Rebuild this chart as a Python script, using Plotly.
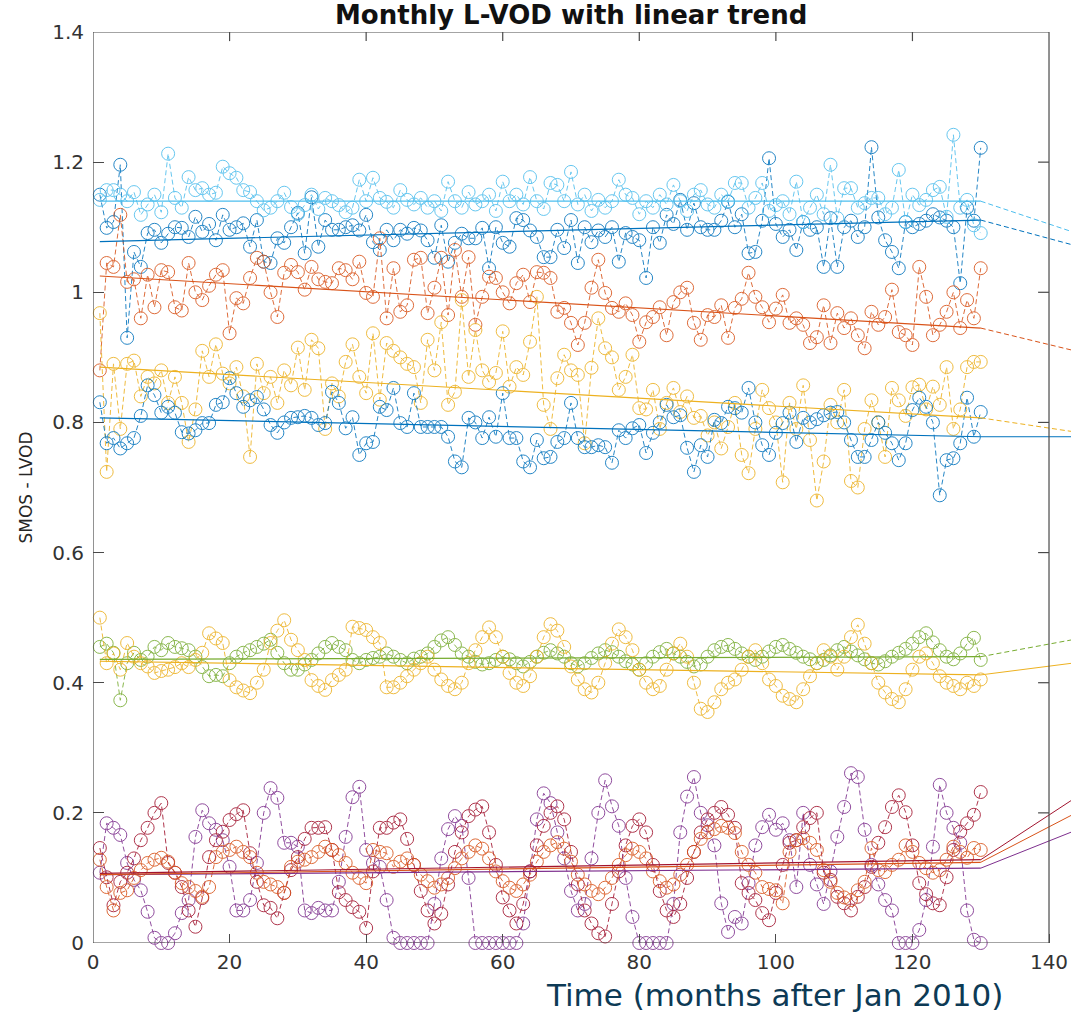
import plotly.graph_objects as go

months = list(range(1, 131))

# ---- series values ----
lightblue_top = [1.142, 1.157, 1.157, 1.150, 1.140, 1.154, 1.119, 1.135, 1.150, 1.123,
                 1.213, 1.145, 1.130, 1.177, 1.157, 1.160, 1.150, 1.153, 1.193, 1.183,
                 1.176, 1.157, 1.154, 1.140, 1.126, 1.130, 1.140, 1.153, 1.131, 1.120,
                 1.134, 1.150, 1.128, 1.145, 1.140, 1.134, 1.123, 1.130, 1.173, 1.140,
                 1.176, 1.145, 1.139, 1.130, 1.157, 1.142, 1.135, 1.145, 1.130, 1.140,
                 1.125, 1.170, 1.140, 1.130, 1.154, 1.135, 1.140, 1.150, 1.125, 1.170,
                 1.140, 1.150, 1.135, 1.177, 1.140, 1.128, 1.168, 1.165, 1.140, 1.185,
                 1.135, 1.150, 1.125, 1.142, 1.130, 1.140, 1.173, 1.150, 1.145, 1.120,
                 1.140, 1.130, 1.150, 1.135, 1.165, 1.140, 1.125, 1.150, 1.157, 1.135,
                 1.130, 1.150, 1.140, 1.168, 1.168, 1.130, 1.145, 1.168, 1.125, 1.134,
                 1.140, 1.120, 1.170, 1.108, 1.130, 1.150, 1.120, 1.196, 1.114, 1.160,
                 1.160, 1.130, 1.137, 1.145, 1.145, 1.120, 1.130, 1.188, 1.108, 1.150,
                 1.134, 1.142, 1.157, 1.162, 1.116, 1.242, 1.130, 1.142, 1.103, 1.091]

blue_top = [1.150, 1.099, 1.108, 1.196, 0.930, 1.062, 1.039, 1.091, 1.096, 1.076,
            1.090, 1.100, 1.099, 1.085, 1.116, 1.093, 1.105, 1.080, 1.119, 1.096,
            1.100, 1.106, 1.070, 1.111, 1.047, 1.045, 1.083, 1.076, 1.100, 1.122,
            1.060, 1.146, 1.070, 1.111, 1.096, 1.096, 1.100, 1.103, 1.095, 1.119,
            1.077, 1.065, 1.096, 1.080, 1.096, 1.090, 1.099, 1.095, 1.080, 1.053,
            1.103, 1.047, 1.076, 1.090, 1.083, 1.083, 1.099, 1.037, 1.100, 1.076,
            1.070, 1.114, 1.111, 1.095, 1.085, 1.054, 1.054, 1.096, 1.068, 1.111,
            1.045, 1.100, 1.077, 1.095, 1.085, 1.100, 1.047, 1.091, 1.085, 1.080,
            1.022, 1.100, 1.076, 1.119, 1.105, 1.142, 1.096, 1.137, 1.100, 1.096,
            1.096, 1.110, 1.139, 1.100, 1.120, 1.060, 1.062, 1.110, 1.206, 1.105,
            1.085, 1.096, 1.065, 1.108, 1.096, 1.100, 1.039, 1.114, 1.039, 1.100,
            1.110, 1.085, 1.100, 1.223, 1.115, 1.080, 1.062, 1.037, 1.108, 1.100,
            1.105, 1.110, 1.120, 1.115, 1.110, 1.100, 1.014, 1.130, 1.110, 1.222]

red_top = [0.880, 1.045, 1.039, 1.119, 1.016, 1.020, 0.960, 1.027, 0.977, 1.034,
           1.031, 0.977, 0.972, 1.045, 1.000, 0.988, 1.010, 1.027, 1.034, 0.937,
           0.991, 0.983, 1.022, 1.053, 1.047, 1.000, 0.962, 1.030, 1.042, 1.031,
           1.004, 1.039, 1.020, 1.016, 1.014, 1.037, 1.034, 1.020, 1.047, 0.999,
           0.993, 1.083, 0.960, 1.037, 0.970, 0.980, 1.050, 1.053, 0.968, 1.007,
           1.053, 0.965, 1.065, 0.993, 1.054, 0.950, 0.993, 1.024, 1.022, 1.000,
           0.983, 1.014, 1.027, 0.985, 1.031, 1.030, 1.022, 0.970, 0.976, 0.953,
           0.919, 0.953, 1.007, 1.050, 0.999, 0.976, 0.970, 0.983, 0.965, 0.924,
           0.954, 0.962, 0.977, 0.934, 0.985, 1.000, 1.007, 0.953, 0.927, 0.965,
           0.962, 0.980, 0.930, 0.976, 0.990, 1.030, 0.993, 0.977, 0.954, 0.975,
           0.996, 0.953, 0.960, 0.950, 0.922, 0.931, 0.980, 0.922, 0.968, 0.945,
           0.960, 0.934, 0.914, 0.970, 0.950, 0.962, 1.004, 0.939, 0.934, 0.919,
           1.039, 0.993, 0.934, 0.950, 0.970, 1.000, 0.945, 0.988, 0.960, 1.037]

yellow_mid = [0.968, 0.724, 0.890, 0.790, 0.890, 0.895, 0.840, 0.870, 0.860, 0.880,
              0.830, 0.870, 0.830, 0.770, 0.820, 0.910, 0.870, 0.920, 0.875, 0.860,
              0.885, 0.840, 0.747, 0.890, 0.845, 0.870, 0.830, 0.880, 0.857, 0.915,
              0.850, 0.927, 0.914, 0.790, 0.860, 0.840, 0.893, 0.920, 0.870, 0.845,
              0.937, 0.835, 0.922, 0.910, 0.900, 0.890, 0.885, 0.830, 0.927, 0.880,
              0.954, 0.827, 0.847, 0.988, 0.870, 0.942, 0.880, 0.862, 0.876, 0.940,
              0.855, 0.885, 0.873, 0.924, 0.993, 0.827, 0.790, 0.868, 0.904, 0.880,
              0.873, 0.768, 0.884, 0.960, 0.914, 0.900, 0.850, 0.870, 0.904, 0.822,
              0.820, 0.850, 0.790, 0.830, 0.853, 0.816, 0.840, 0.807, 0.810, 0.780,
              0.800, 0.760, 0.793, 0.830, 0.750, 0.722, 0.790, 0.850, 0.822, 0.800,
              0.708, 0.830, 0.790, 0.857, 0.773, 0.680, 0.740, 0.827, 0.800, 0.850,
              0.710, 0.700, 0.790, 0.834, 0.800, 0.747, 0.853, 0.834, 0.810, 0.854,
              0.858, 0.820, 0.855, 0.827, 0.885, 0.790, 0.820, 0.885, 0.893, 0.893]

blue_mid = [0.831, 0.768, 0.776, 0.760, 0.768, 0.776, 0.810, 0.857, 0.842, 0.815,
            0.824, 0.815, 0.785, 0.783, 0.788, 0.799, 0.799, 0.827, 0.831, 0.868,
            0.845, 0.824, 0.834, 0.839, 0.820, 0.796, 0.784, 0.800, 0.807, 0.808,
            0.810, 0.807, 0.796, 0.799, 0.847, 0.830, 0.791, 0.808, 0.750, 0.768,
            0.770, 0.824, 0.819, 0.853, 0.799, 0.793, 0.845, 0.793, 0.793, 0.793,
            0.793, 0.778, 0.740, 0.731, 0.807, 0.800, 0.776, 0.808, 0.778, 0.845,
            0.776, 0.776, 0.740, 0.731, 0.773, 0.745, 0.747, 0.770, 0.776, 0.830,
            0.776, 0.762, 0.762, 0.765, 0.762, 0.738, 0.788, 0.776, 0.791, 0.796,
            0.753, 0.784, 0.800, 0.827, 0.808, 0.811, 0.761, 0.724, 0.765, 0.747,
            0.804, 0.799, 0.824, 0.822, 0.815, 0.853, 0.800, 0.765, 0.750, 0.784,
            0.799, 0.815, 0.770, 0.807, 0.800, 0.805, 0.811, 0.815, 0.816, 0.800,
            0.773, 0.747, 0.747, 0.773, 0.800, 0.784, 0.768, 0.742, 0.768, 0.819,
            0.838, 0.824, 0.800, 0.688, 0.742, 0.745, 0.768, 0.838, 0.778, 0.816]

green_low = [0.455, 0.460, 0.446, 0.373, 0.430, 0.446, 0.435, 0.440, 0.455, 0.450,
             0.461, 0.455, 0.453, 0.450, 0.440, 0.424, 0.410, 0.412, 0.410, 0.430,
             0.440, 0.446, 0.450, 0.455, 0.460, 0.466, 0.446, 0.430, 0.420, 0.420,
             0.428, 0.435, 0.445, 0.455, 0.461, 0.455, 0.450, 0.435, 0.430, 0.435,
             0.438, 0.440, 0.445, 0.440, 0.435, 0.430, 0.437, 0.440, 0.445, 0.455,
             0.465, 0.470, 0.458, 0.445, 0.440, 0.432, 0.428, 0.430, 0.435, 0.440,
             0.436, 0.430, 0.425, 0.432, 0.440, 0.446, 0.450, 0.445, 0.440, 0.430,
             0.425, 0.430, 0.438, 0.445, 0.450, 0.447, 0.440, 0.433, 0.428, 0.420,
             0.430, 0.440, 0.447, 0.452, 0.445, 0.440, 0.432, 0.425, 0.428, 0.440,
             0.450, 0.455, 0.458, 0.452, 0.445, 0.440, 0.435, 0.440, 0.448, 0.455,
             0.458, 0.452, 0.446, 0.440, 0.436, 0.430, 0.435, 0.442, 0.450, 0.455,
             0.448, 0.442, 0.436, 0.430, 0.428, 0.433, 0.440, 0.446, 0.452, 0.460,
             0.470, 0.476, 0.462, 0.450, 0.440, 0.436, 0.445, 0.460, 0.469, 0.435]

yellow_low = [0.500, 0.430, 0.445, 0.420, 0.461, 0.440, 0.430, 0.425, 0.415, 0.418,
              0.420, 0.424, 0.430, 0.424, 0.435, 0.446, 0.476, 0.468, 0.461, 0.404,
              0.393, 0.388, 0.384, 0.400, 0.420, 0.461, 0.480, 0.496, 0.466, 0.450,
              0.435, 0.404, 0.395, 0.389, 0.404, 0.412, 0.420, 0.486, 0.484, 0.481,
              0.470, 0.461, 0.393, 0.393, 0.400, 0.410, 0.420, 0.430, 0.440, 0.420,
              0.405, 0.395, 0.390, 0.400, 0.430, 0.450, 0.470, 0.485, 0.470, 0.440,
              0.415, 0.400, 0.395, 0.410, 0.440, 0.470, 0.490, 0.480, 0.455, 0.425,
              0.405, 0.390, 0.385, 0.400, 0.430, 0.460, 0.482, 0.470, 0.450, 0.420,
              0.400, 0.390, 0.395, 0.420, 0.445, 0.460, 0.440, 0.400, 0.360, 0.355,
              0.370, 0.390, 0.400, 0.405, 0.420, 0.440, 0.450, 0.430, 0.405, 0.395,
              0.380, 0.375, 0.370, 0.390, 0.410, 0.430, 0.450, 0.440, 0.420, 0.440,
              0.470, 0.489, 0.460, 0.430, 0.400, 0.385, 0.375, 0.370, 0.390, 0.420,
              0.440, 0.445, 0.430, 0.410, 0.400, 0.395, 0.390, 0.400, 0.395, 0.405]

purple_bot = [0.108, 0.184, 0.177, 0.166, 0.123, 0.097, 0.081, 0.048, 0.008, 0.000,
              0.000, 0.015, 0.046, 0.066, 0.163, 0.204, 0.184, 0.174, 0.158, 0.117,
              0.050, 0.050, 0.066, 0.123, 0.200, 0.238, 0.223, 0.154, 0.154, 0.148,
              0.050, 0.046, 0.054, 0.050, 0.050, 0.094, 0.163, 0.224, 0.240, 0.143,
              0.123, 0.117, 0.066, 0.008, 0.000, 0.000, 0.000, 0.000, 0.000, 0.060,
              0.130, 0.175, 0.195, 0.180, 0.100, 0.000, 0.000, 0.000, 0.000, 0.000,
              0.000, 0.000, 0.030, 0.110, 0.190, 0.230, 0.215, 0.170, 0.130, 0.080,
              0.050, 0.060, 0.130, 0.200, 0.250, 0.210, 0.180, 0.100, 0.040, 0.000,
              0.000, 0.000, 0.000, 0.000, 0.060, 0.170, 0.225, 0.255, 0.200, 0.181,
              0.150, 0.061, 0.017, 0.040, 0.030, 0.092, 0.150, 0.178, 0.197, 0.174,
              0.184, 0.158, 0.086, 0.200, 0.120, 0.090, 0.060, 0.110, 0.163, 0.209,
              0.261, 0.255, 0.174, 0.120, 0.090, 0.066, 0.050, 0.000, 0.000, 0.000,
              0.020, 0.066, 0.148, 0.243, 0.200, 0.177, 0.154, 0.050, 0.005, 0.000]

darkred_bot = [0.146, 0.101, 0.058, 0.094, 0.108, 0.130, 0.158, 0.177, 0.200, 0.215,
               0.123, 0.108, 0.086, 0.050, 0.025, 0.069, 0.132, 0.158, 0.171, 0.189,
               0.198, 0.204, 0.138, 0.094, 0.058, 0.054, 0.038, 0.077, 0.112, 0.132,
               0.160, 0.177, 0.177, 0.178, 0.143, 0.078, 0.066, 0.055, 0.048, 0.023,
               0.110, 0.177, 0.177, 0.185, 0.190, 0.160, 0.120, 0.080, 0.050, 0.030,
               0.045, 0.090, 0.140, 0.170, 0.195, 0.205, 0.210, 0.170, 0.120, 0.070,
               0.050, 0.030, 0.060, 0.110, 0.150, 0.180, 0.200, 0.210, 0.190, 0.140,
               0.090, 0.050, 0.030, 0.015, 0.010, 0.060, 0.110, 0.150, 0.180, 0.190,
               0.170, 0.120, 0.080, 0.050, 0.040, 0.060, 0.100, 0.140, 0.170, 0.190,
               0.200, 0.209, 0.197, 0.177, 0.092, 0.077, 0.066, 0.046, 0.035, 0.077,
               0.120, 0.154, 0.158, 0.178, 0.192, 0.200, 0.108, 0.097, 0.071, 0.061,
               0.050, 0.071, 0.086, 0.117, 0.154, 0.178, 0.209, 0.227, 0.201, 0.150,
               0.092, 0.075, 0.061, 0.058, 0.101, 0.143, 0.171, 0.184, 0.197, 0.232]

orange_bot = [0.128, 0.086, 0.050, 0.077, 0.081, 0.100, 0.112, 0.123, 0.128, 0.131,
              0.125, 0.108, 0.092, 0.086, 0.080, 0.071, 0.086, 0.132, 0.140, 0.143,
              0.148, 0.140, 0.132, 0.108, 0.094, 0.090, 0.086, 0.077, 0.117, 0.125,
              0.128, 0.132, 0.140, 0.148, 0.143, 0.135, 0.123, 0.108, 0.100, 0.092,
              0.143, 0.140, 0.138, 0.117, 0.125, 0.130, 0.120, 0.105, 0.095, 0.085,
              0.090, 0.100, 0.115, 0.130, 0.140, 0.150, 0.145, 0.130, 0.110, 0.095,
              0.085, 0.080, 0.090, 0.105, 0.125, 0.140, 0.150, 0.155, 0.145, 0.125,
              0.105, 0.090, 0.080, 0.075, 0.085, 0.100, 0.120, 0.135, 0.145, 0.140,
              0.130, 0.110, 0.095, 0.085, 0.090, 0.105, 0.120, 0.140, 0.160, 0.170,
              0.175, 0.180, 0.177, 0.169, 0.140, 0.120, 0.108, 0.086, 0.083, 0.081,
              0.061, 0.140, 0.158, 0.161, 0.154, 0.143, 0.112, 0.094, 0.077, 0.070,
              0.066, 0.081, 0.094, 0.146, 0.112, 0.109, 0.120, 0.128, 0.150, 0.140,
              0.123, 0.115, 0.108, 0.112, 0.128, 0.148, 0.140, 0.131, 0.146, 0.143]

# linear trend: value at month 1, value at month 130, then the stray segment end
trend_x = [1, 130, 143.4]
trend_vals = {
    "blue_top":     [1.078, 1.111, 1.073],
    "red_top":      [1.025, 0.945, 0.911],
    "yellow_mid":   [0.885, 0.807, 0.786],
    "purple_bot":   [0.105, 0.115, 0.171],
    "green_low":    [0.436, 0.440, 0.466],
    "lightblue_top": [1.140, 1.140, 1.093],
    "darkred_bot":  [0.107, 0.128, 0.220],
    "blue_mid":     [0.807, 0.778, 0.778],
    "orange_bot":   [0.105, 0.124, 0.197],
    "yellow_low":   [0.433, 0.412, 0.430],
}

series = [
    ("blue_top", blue_top, "#0072BD", True),
    ("red_top", red_top, "#D95319", True),
    ("yellow_mid", yellow_mid, "#EDB120", True),
    ("purple_bot", purple_bot, "#7E2F8E", False),
    ("green_low", green_low, "#77AC30", True),
    ("lightblue_top", lightblue_top, "#4DBEEE", True),
    ("darkred_bot", darkred_bot, "#A2142F", False),
    ("blue_mid", blue_mid, "#0072BD", False),
    ("orange_bot", orange_bot, "#D95319", False),
    ("yellow_low", yellow_low, "#EDB120", False),
]

x_ticks = [0, 20, 40, 60, 80, 100, 120, 140]
y_ticks = [0, 0.2, 0.4, 0.6, 0.8, 1.0, 1.2, 1.4]

X_MAX_FRAME = 140
X_RANGE = [0, 143.22]
Y_RANGE = [0, 1.4]

fig = go.Figure()

for name, vals, color, ext_dash in series:
    fig.add_trace(go.Scatter(
        x=months, y=vals, mode="lines+markers", name=name,
        line=dict(color=color, width=1, dash="5px,3px"),
        marker=dict(symbol="circle-open", size=13, color=color, line=dict(width=1, color=color)),
        opacity=0.85, showlegend=False, cliponaxis=False))

for name, vals, color, ext_dash in series:
    tv = trend_vals[name]
    fig.add_trace(go.Scatter(
        x=trend_x[:2], y=tv[:2], mode="lines",
        line=dict(color=color, width=1.2), showlegend=False, hoverinfo="skip"))
    fig.add_trace(go.Scatter(
        x=trend_x[1:], y=tv[1:], mode="lines",
        line=dict(color=color, width=1, dash="5px,3px" if ext_dash else "solid"),
        showlegend=False, hoverinfo="skip"))

axis_color = "#4a4a4a"
tick_font = dict(family="DejaVu Sans", size=20, color="#333333")

shapes = [dict(type="rect", xref="x", yref="y", x0=0, x1=X_MAX_FRAME, y0=0, y1=1.4,
               line=dict(color=axis_color, width=1.2), layer="above")]
# right-side and top mirrored ticks
for yv in y_ticks[1:-1]:
    shapes.append(dict(type="line", xref="x", yref="y", x0=X_MAX_FRAME, x1=X_MAX_FRAME - 1.6,
                       y0=yv, y1=yv, line=dict(color=axis_color, width=1.2), layer="above"))
for xv in x_ticks[1:-1]:
    shapes.append(dict(type="line", xref="x", yref="y", x0=xv, x1=xv,
                       y0=1.4, y1=1.4 - 0.014, line=dict(color=axis_color, width=1.2), layer="above"))

fig.update_layout(
    width=1071, height=1016,
    margin=dict(l=93, r=0, t=32, b=73),
    plot_bgcolor="white", paper_bgcolor="white",
    showlegend=False,
    shapes=shapes,
    xaxis=dict(range=X_RANGE, tickvals=x_ticks, ticks="inside", ticklen=9, tickwidth=1.2,
               tickcolor=axis_color, showgrid=False, zeroline=False, showline=False,
               tickfont=tick_font, ticklabelstandoff=5),
    yaxis=dict(range=Y_RANGE, tickvals=y_ticks, ticks="inside", ticklen=11, tickwidth=1.2,
               tickcolor=axis_color, showgrid=False, zeroline=False, showline=False,
               tickfont=tick_font, ticklabelstandoff=8),
    annotations=[
        dict(text="<b>Monthly L-VOD with linear trend</b>", xref="paper", yref="paper",
             x=(571 - 93) / 978, y=1, xanchor="center", yanchor="bottom", yshift=0,
             showarrow=False, font=dict(family="DejaVu Sans", size=26, color="#111111")),
        dict(text="SMOS - LVOD", xref="paper", yref="paper", x=(25 - 93) / 978, y=0.5,
             xanchor="center", yanchor="middle", textangle=-90, showarrow=False,
             font=dict(family="DejaVu Sans", size=17, color="#262626")),
        dict(text="Time (months after Jan 2010)", xref="paper", yref="paper",
             x=(774 - 93) / 978, y=0, xanchor="center", yanchor="middle", yshift=-52,
             showarrow=False, font=dict(family="DejaVu Sans", size=31, color="#0d3a55")),
    ],
)

fig.write_html("out.html")
